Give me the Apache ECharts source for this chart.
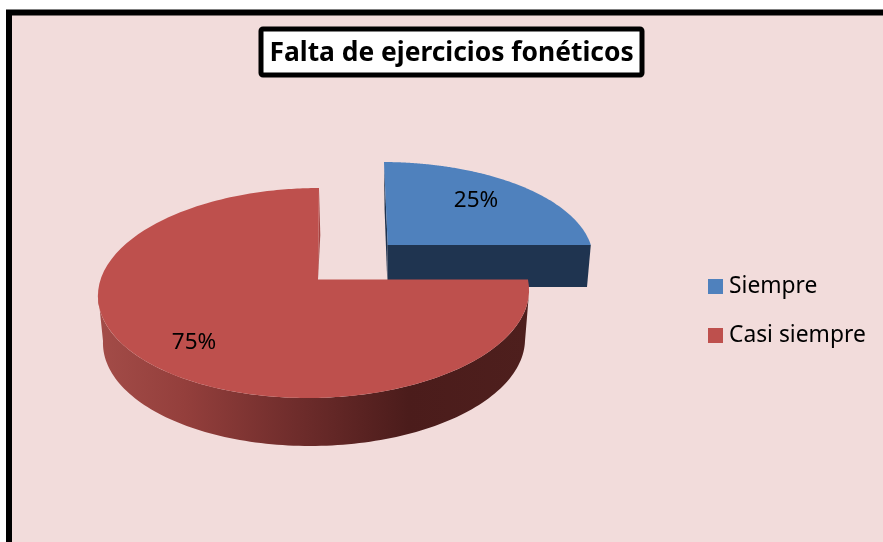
<!DOCTYPE html>
<html>
<head>
<meta charset="utf-8">
<style>html,body{margin:0;padding:0;background:#fff}#c{width:883px;height:542px}</style>
<script src="https://cdn.jsdelivr.net/npm/echarts@6/dist/echarts.min.js"></script>
</head>
<body>
<div id="c"></div>
<script>
const titleText = 'Falta de ejercicios fonéticos';
const categories = ['Siempre', 'Casi siempre'];
const values = [25, 75];
const topColors = ['#4f81bd', '#be504d'];

const total = values.reduce((a, b) => a + b, 0);
const font = '"Noto Sans", "Open Sans", sans-serif';

// Perspective geometry of each exploded slice, in picture units
const geometry = [
  { apex: [387.7, 245], tilt: -0.045, top: { c: [382, 259], rx: 211, ry: 97, skew: 0 }, label: [476, 201] },
  { apex: [318, 279.5], tilt: 0.011, top: { c: [313.5, 293], rx: 215.5, ry: 105, skew: -6 },
    bottom: { c: [314, 341], rx: 211, ry: 105, skew: -4 }, label: [194, 343] }
];

function hit(g, e, t) {
  const dx = Math.sin(t) + g.tilt * Math.cos(t), dy = -Math.cos(t);
  const ry0 = g.apex[1] - e.c[1];
  const ox = (g.apex[0] - e.c[0] - e.skew * ry0 / e.ry) / e.rx, oy = ry0 / e.ry;
  const ax = (dx - e.skew * dy / e.ry) / e.rx, ay = dy / e.ry;
  const A = ax * ax + ay * ay, B = 2 * (ox * ax + oy * ay), C = ox * ox + oy * oy - 1;
  const s = (-B + Math.sqrt(B * B - 4 * A * C)) / (2 * A);
  return [g.apex[0] + s * dx, g.apex[1] + s * dy];
}

function sliceRange(i) {
  const before = values.slice(0, i).reduce((a, b) => a + b, 0);
  return [before / total * 2 * Math.PI, (before + values[i]) / total * 2 * Math.PI];
}

function ellipseArc(e, from, to, n) {
  const out = [];
  for (let k = 0; k <= n; k++) {
    const p = from + (to - from) * k / n;
    out.push([e.c[0] + e.rx * Math.cos(p) + e.skew * Math.sin(p), e.c[1] + e.ry * Math.sin(p)]);
  }
  return out;
}

function renderSlice(i, api) {
  const g = geometry[i];
  const [a0, a1] = sliceRange(i);
  const toPx = pts => pts.map(p => api.coord(p));
  const children = [];
  const face = [g.apex];
  const N = 160;
  for (let k = 0; k <= N; k++) face.push(hit(g, g.top, a0 + (a1 - a0) * k / N));

  if (i === 0) {
    const rightEnd = face[face.length - 1];
    const topEnd = face[1];
    children.push({ type: 'polygon', shape: { points: toPx([g.apex, rightEnd, [587, 287], [387.5, 287]]) },
      style: { fill: '#1f3450' } });
    children.push({ type: 'polygon', shape: { points: toPx([topEnd, [384.6, 210], [387.3, 282], g.apex]) },
      style: { fill: '#1f3450' } });
  } else {
    const wall = ellipseArc(g.top, 0, Math.PI, 120).concat(ellipseArc(g.bottom, Math.PI, 0, 120));
    children.push({ type: 'polygon', shape: { points: toPx(wall) },
      style: { fill: { type: 'linear', x: 0, y: 0, x2: 1, y2: 0, colorStops: [
        { offset: 0, color: '#a34c48' }, { offset: 0.2, color: '#943f3c' },
        { offset: 0.45, color: '#702d2c' }, { offset: 0.72, color: '#4b1c1b' },
        { offset: 1, color: '#4e1f1d' } ] } } });
    children.push({ type: 'polygon', shape: { points: toPx([[319, 189], [320.3, 235], [318, 279.5]]) },
      style: { fill: '#a54341' } });
  }
  children.push({ type: 'polygon', shape: { points: toPx(face) }, style: { fill: topColors[i] } });
  const lp = api.coord(g.label);
  children.push({ type: 'text', x: lp[0], y: lp[1], style: {
    text: Math.round(values[i] / total * 100) + '%', font: '22.5px ' + font, fill: '#000',
    align: 'center', verticalAlign: 'middle' } });
  return { type: 'group', children };
}

const chart = echarts.init(document.getElementById('c'), null, { renderer: 'canvas' });
chart.setOption({
  animation: false,
  backgroundColor: '#ffffff',
  graphic: [{
    type: 'rect', z: -10, silent: true,
    shape: { x: 9, y: 12.5, width: 900, height: 560 },
    style: { fill: '#f2dcdb', stroke: '#000', lineWidth: 6 }
  }],
  title: {
    text: titleText, left: 260.5, top: 28.5,
    backgroundColor: '#fff', borderColor: '#000', borderWidth: 5, borderRadius: 2,
    padding: [9, 9, 6, 9],
    textStyle: { color: '#000', fontFamily: font, fontWeight: 'bold', fontSize: 26.4, lineHeight: 32 }
  },
  grid: { left: 0, right: 0, top: 0, bottom: 0 },
  xAxis: { type: 'value', min: 0, max: 883, show: false },
  yAxis: { type: 'value', min: 0, max: 542, inverse: true, show: false },
  legend: {
    orient: 'vertical', left: 708, top: 272, itemWidth: 15, itemHeight: 15, itemGap: 20,
    icon: 'rect', selectedMode: false, padding: 0,
    textStyle: { color: '#000', fontFamily: font, fontSize: 22.8, padding: [5, 0, 0, 1], height: 24, lineHeight: 24 },
    data: categories
  },
  series: categories.map((name, i) => ({
    type: 'custom', name, coordinateSystem: 'cartesian2d', z: 2 + i, silent: true,
    itemStyle: { color: topColors[i] },
    data: [[values[i]]],
    renderItem: (params, api) => renderSlice(i, api)
  }))
});
</script>
</body>
</html>
